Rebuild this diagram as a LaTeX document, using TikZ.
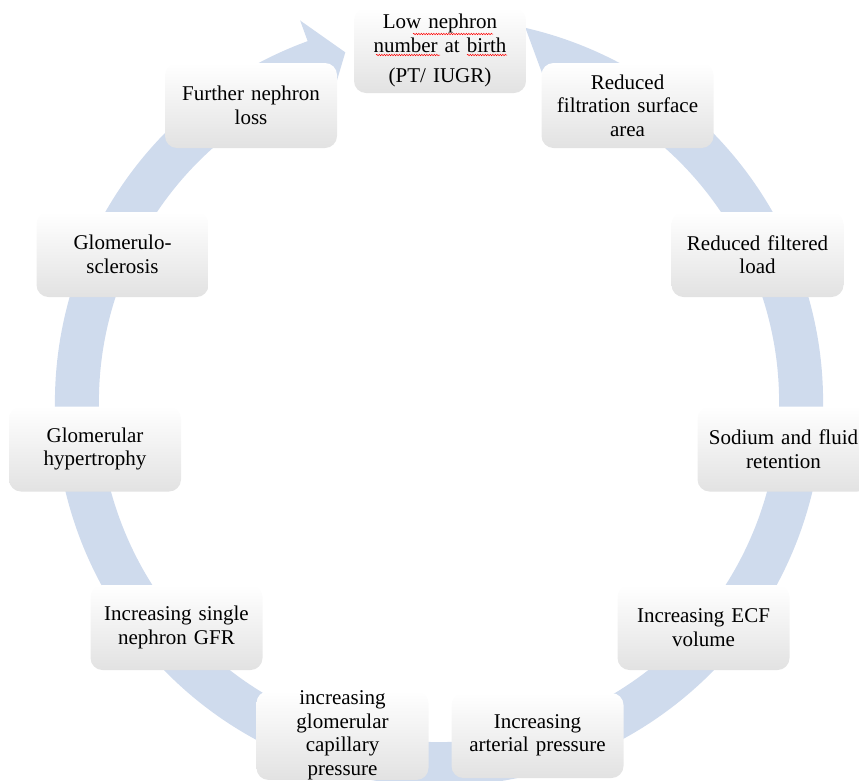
\documentclass[tikz,border=0pt]{standalone}
\usepackage{fontspec}
\setmainfont{Liberation Serif}
\usetikzlibrary{decorations.pathmorphing}
\definecolor{ringblue}{RGB}{207,219,237}
\definecolor{boxgray}{RGB}{226,226,226}
\tikzset{
  cbox/.style={rounded corners=12pt, top color=white, middle color=white, bottom color=boxgray,
    minimum width=172pt, minimum height=85pt, text width=168pt, align=center, inner sep=0pt,
    font=\fontsize{21}{23.5}\selectfont},
  squig/.style={red, line width=0.5pt, decorate, decoration={snake, amplitude=0.7pt, segment length=2.5pt}}
}
\begin{document}
\begin{tikzpicture}[x=1pt,y=-1pt]
\clip (0,0) rectangle (859,780);
% cycle arrow
\begin{scope}[shift={(439pt,-402pt)}]
\fill[ringblue] (77:384pt) arc[start angle=77,end angle=-250,radius=384pt]
  -- (110:406pt) -- (105:362pt) -- (110:318pt)
  -- (-250:340pt) arc[start angle=-250,end angle=72,radius=340pt] -- cycle;
\end{scope}
% boxes
\node[cbox] (n1) at (440,50.5) {Low nephron\\number at birth\\[7pt](PT/ IUGR)};
\node[cbox] (n2) at (627.5,105.5) {Reduced\\filtration surface\\area};
\node[cbox] (n3) at (757.5,254.5) {Reduced filtered\\load};
\node[cbox] (n4) at (783.5,449) {Sodium and fluid\\retention};
\node[cbox] (n5) at (703.5,627.5) {Increasing ECF\\volume};
\node[cbox] (n6) at (537.5,735.5) {Increasing\\arterial pressure};
\node[cbox] (n7) at (342.5,735.5) {increasing\\glomerular\\capillary\\pressure};
\node[cbox] (n8) at (176.5,627.5) {Increasing single\\nephron GFR};
\node[cbox] (n9) at (95,449) {Glomerular\\hypertrophy};
\node[cbox] (n10) at (122.5,254.5) {Glomerulo-\\sclerosis};
\node[cbox] (n11) at (251,105.5) {Further nephron\\loss};
% spell-check marks
\draw[squig] (413,34) -- (493,34);
\draw[squig] (376,55) -- (440,55);
\draw[squig] (467,55) -- (507,55);
\end{tikzpicture}
\end{document}
